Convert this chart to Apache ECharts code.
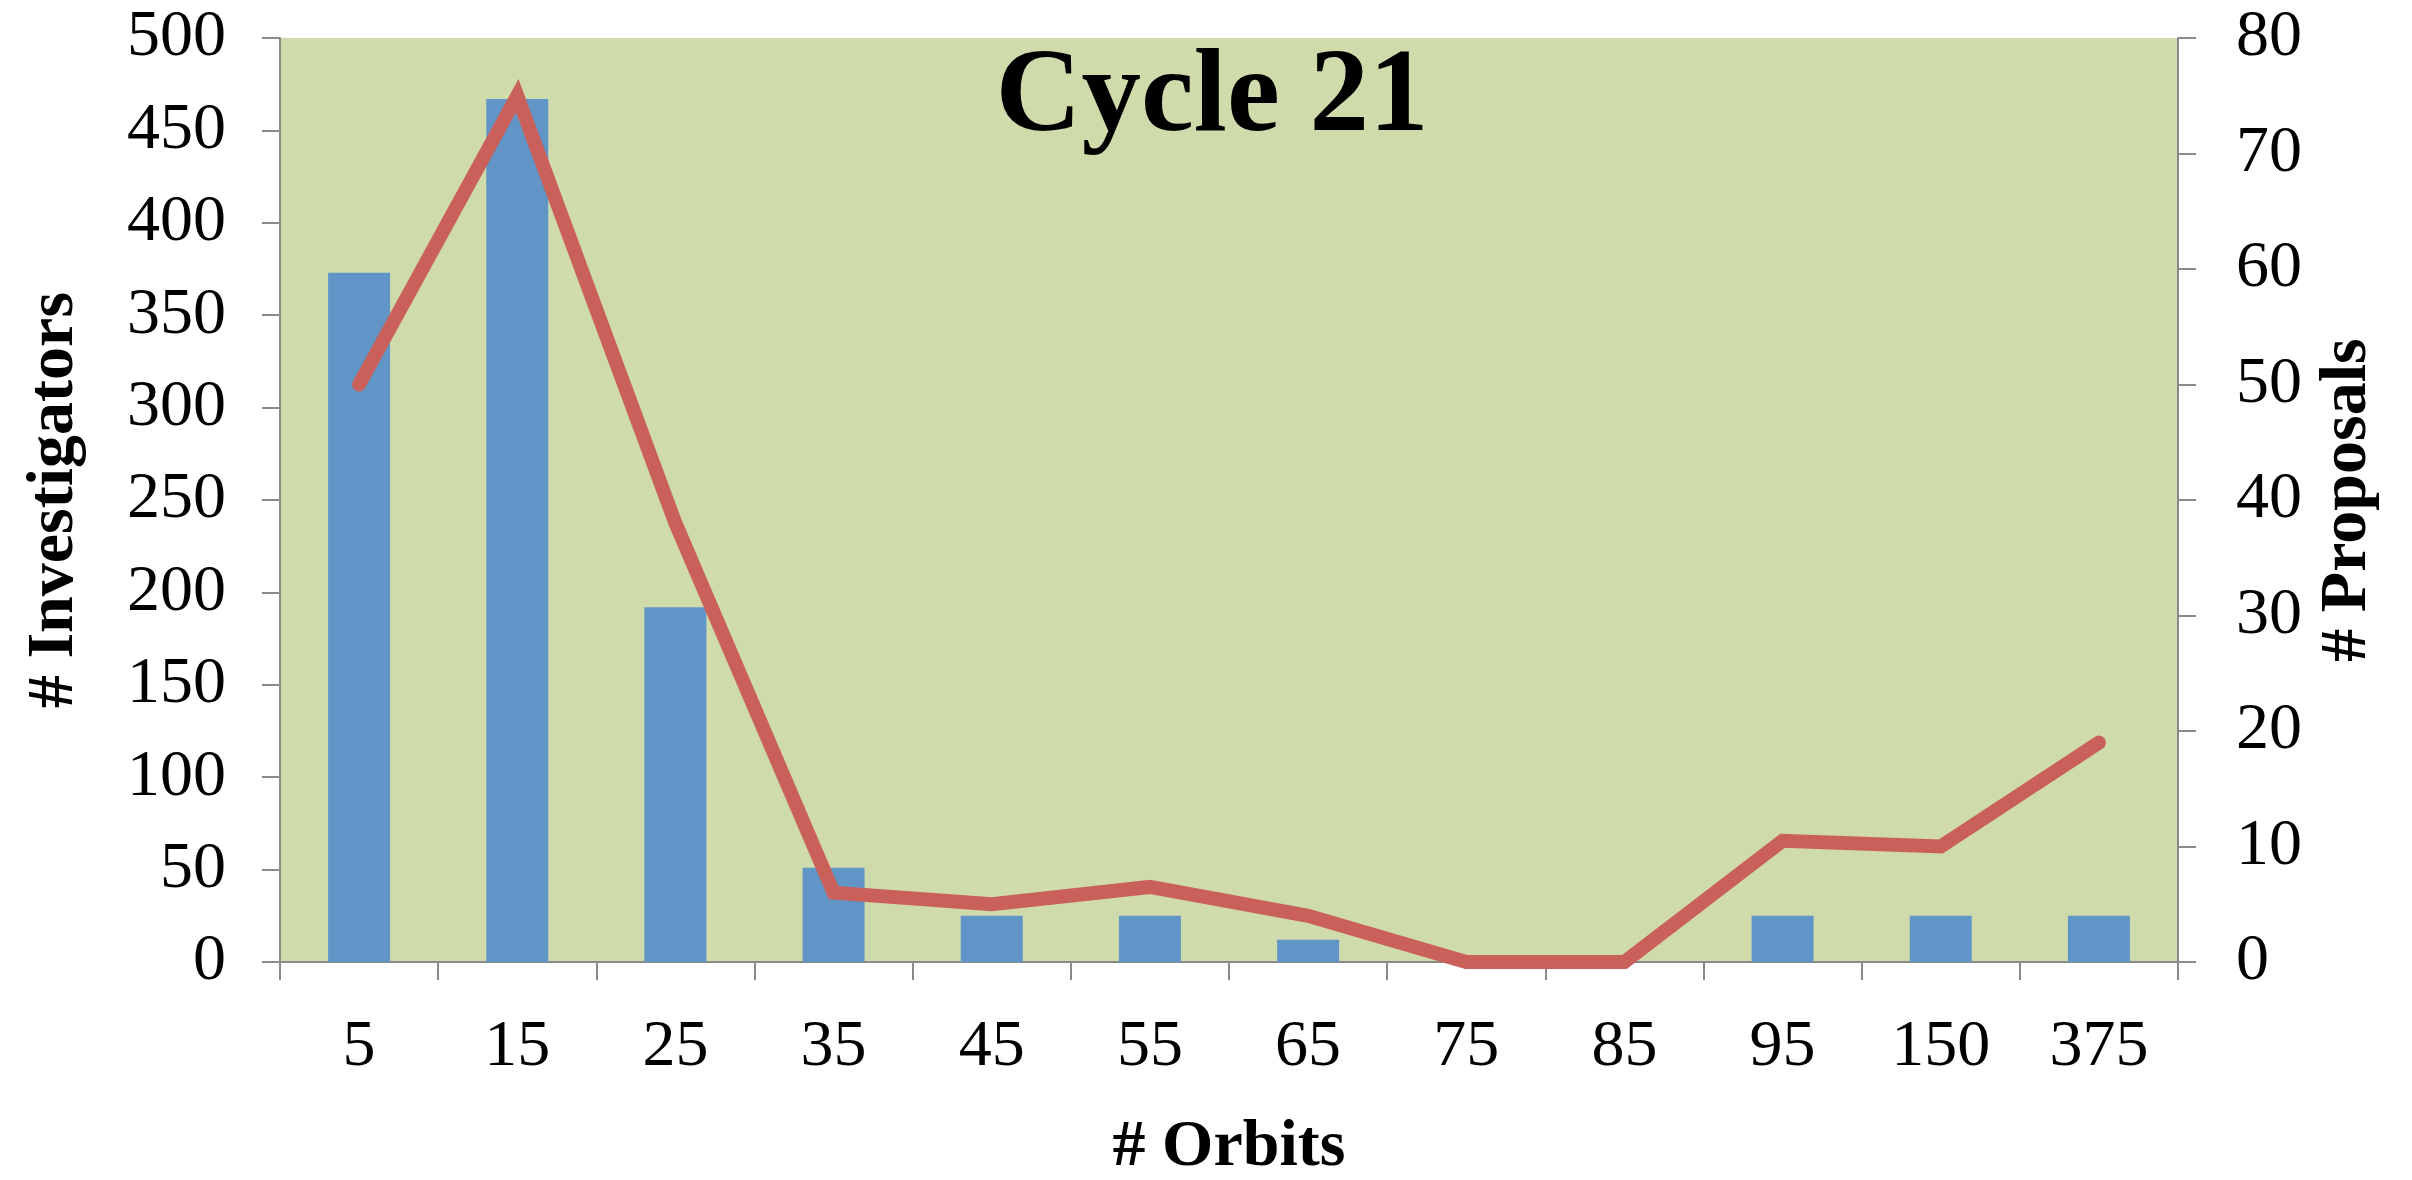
<!DOCTYPE html>
<html>
<head>
<meta charset="utf-8">
<title>Cycle 21</title>
<script src="https://cdn.jsdelivr.net/npm/echarts@6/dist/echarts.min.js"></script>
<style>
  html, body { margin: 0; padding: 0; background: #ffffff; }
  #chart { width: 2412px; height: 1180px; }
</style>
</head>
<body>
<div id="chart"></div>
<script>
// Orbit bins on the category axis
const orbits = ['5', '15', '25', '35', '45', '55', '65', '75', '85', '95', '150', '375'];
// Investigators per bin (bars, left axis)
const investigators = [373, 467, 192, 51, 25, 25, 12, 0, 0, 25, 25, 25];
// Proposals per bin (line, right axis)
const proposals = [50, 75, 38, 6, 5, 6.5, 4, 0, 0, 10.5, 10, 19];

const FONT = '"Liberation Serif", "DejaVu Serif", serif';
const AXIS_GREY = '#8a8a8a';

const chart = echarts.init(document.getElementById('chart'), null, { renderer: 'canvas' });

chart.setOption({
  animation: false,
  backgroundColor: '#ffffff',
  title: {
    text: 'Cycle 21',
    left: 1207,
    top: 35,
    textAlign: 'center',
    textStyle: { fontFamily: FONT, fontWeight: 'bold', fontSize: 119, color: '#000000' }
  },
  grid: {
    left: 280, right: 234, top: 38, bottom: 218,
    containLabel: false,
    outerBoundsMode: 'none',
    show: true, backgroundColor: '#cfdbab', borderWidth: 0
  },
  xAxis: {
    type: 'category',
    data: orbits,
    boundaryGap: true,
    name: '# Orbits',
    nameLocation: 'middle',
    nameGap: 153,
    nameTextStyle: { fontFamily: FONT, fontWeight: 'bold', fontSize: 66, color: '#000000' },
    axisLine: { lineStyle: { color: AXIS_GREY, width: 2 } },
    axisTick: { show: true, length: 18, lineStyle: { color: AXIS_GREY, width: 2 } },
    axisLabel: { fontFamily: FONT, fontSize: 66, color: '#000000', margin: 53 },
    splitLine: { show: false }
  },
  yAxis: [
    {
      type: 'value',
      min: 0, max: 500, interval: 50,
      name: '# Investigators',
      nameLocation: 'middle',
      nameRotate: 90,
      nameGap: 192,
      nameTextStyle: { fontFamily: FONT, fontWeight: 'bold', fontSize: 66, color: '#000000' },
      axisLine: { show: true, lineStyle: { color: AXIS_GREY, width: 2 } },
      axisTick: { show: true, length: 18, lineStyle: { color: AXIS_GREY, width: 2 } },
      axisLabel: { fontFamily: FONT, fontSize: 66, color: '#000000', margin: 54 },
      splitLine: { show: false }
    },
    {
      type: 'value',
      position: 'right',
      min: 0, max: 80, interval: 10,
      name: '# Proposals',
      nameLocation: 'middle',
      nameRotate: 90,
      nameGap: 137,
      nameTextStyle: { fontFamily: FONT, fontWeight: 'bold', fontSize: 66, color: '#000000' },
      axisLine: { show: true, lineStyle: { color: AXIS_GREY, width: 2 } },
      axisTick: { show: true, length: 18, lineStyle: { color: AXIS_GREY, width: 2 } },
      axisLabel: { fontFamily: FONT, fontSize: 66, color: '#000000', margin: 58 },
      splitLine: { show: false }
    }
  ],
  series: [
    {
      name: '# Investigators',
      type: 'bar',
      yAxisIndex: 0,
      data: investigators,
      barWidth: 62,
      itemStyle: { color: '#6195c8' }
    },
    {
      name: '# Proposals',
      type: 'line',
      yAxisIndex: 1,
      data: proposals,
      symbol: 'none',
      lineStyle: { color: '#ca605a', width: 14, join: 'miter', cap: 'round' },
      z: 3
    }
  ]
});
</script>
</body>
</html>
